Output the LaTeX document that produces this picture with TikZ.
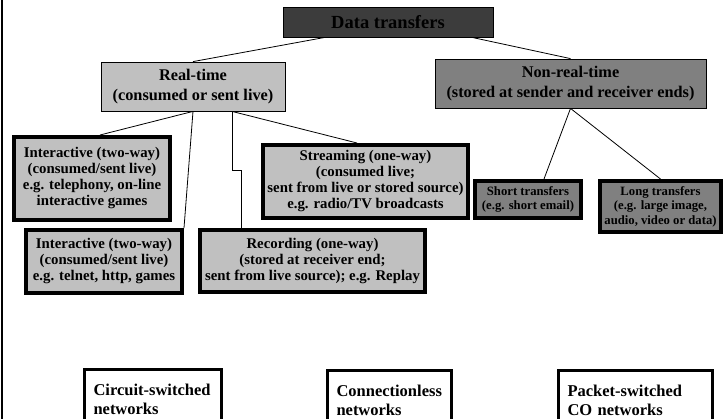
\documentclass[tikz,border=0pt]{standalone}
\usepackage{fontspec}
\setmainfont{Liberation Serif}
\usetikzlibrary{positioning}
\definecolor{darkfill}{HTML}{3C3C3C}
\definecolor{midfill}{HTML}{808080}
\definecolor{lightfill}{HTML}{C0C0C0}
\tikzset{
x=1pt, y=-1pt, % pixel units, y grows downwards
every node/.style={align=center, inner sep=0pt},
top/.style={draw, line width=0.8pt, fill=darkfill, font=\bfseries\fontsize{18.5}{21}\selectfont},
head/.style={draw, line width=0.8pt, font=\bfseries\fontsize{16.3}{20}\selectfont}, % the two main classes
kind/.style={draw, line width=4pt, fill=lightfill, font=\bfseries\fontsize{14.8}{16}\selectfont}, % real-time kinds
small/.style={draw, line width=4pt, fill=midfill, font=\bfseries\fontsize{12.7}{14.5}\selectfont}, % non-real-time kinds
net/.style={draw, line width=3pt, anchor=north west, align=left, inner xsep=9.5pt, minimum height=59pt, font=\bfseries\fontsize{16.5}{19}\selectfont},
link/.style={line width=0.8pt},
}

\begin{document}
\begin{tikzpicture}
    \useasboundingbox (0,0) rectangle (724,419);
    \clip (0,0) rectangle (724,419);
    \draw[line width=2pt] (2,0) -- (2,419);

    % top of the tree
    \node[top, minimum width=210pt, minimum height=30pt] (dt) at (388,22) {Data transfers};
    \node[head, fill=lightfill, minimum width=184pt, minimum height=49pt] (rt) at (193,86.5) {Real-time\\(consumed or sent live)};
    \node[head, fill=midfill, minimum width=271pt, minimum height=49pt] (nrt) at (570.5,83.5) {Non-real-time\\(stored at sender and receiver ends)};

    % real-time
    \node[kind, minimum width=156pt, minimum height=83pt] (int1) at (92,178.5) {Interactive (two-way)\\(consumed/sent live)\\e.g. telephony, on-line\\interactive games};
    \node[kind, minimum width=156pt, minimum height=63pt] (int2) at (104,261.5) {Interactive (two-way)\\(consumed/sent live)\\e.g. telnet, http, games};
    \node[kind, minimum width=205pt, minimum height=73pt] (str) at (365.5,181.5) {Streaming (one-way)\\(consumed live;\\sent from live or stored source)\\e.g. radio/TV broadcasts};
    \node[kind, minimum width=225pt, minimum height=62pt] (rec) at (312.5,261) {Recording (one-way)\\(stored at receiver end;\\sent from live source); e.g. Replay};

    % non-real-time
    \node[small, minimum width=106pt, minimum height=37pt] (short) at (528,199.5) {Short transfers\\(e.g. short email)};
    \node[small, minimum width=121pt, minimum height=51pt] (long) at (660.5,206.5) {Long transfers\\(e.g. large image,\\audio, video or data)};

    % networks
    \node[net, text width=118pt] (cs) at (82.5,368.5) {Circuit-switched\\networks};
    \node[net, text width=105pt] (cl) at (325.5,369.5) {Connectionless\\networks};
    \node[net, text width=135pt] (ps) at (556.5,369.5) {Packet-switched\\CO networks};

    \draw[link]
    ([xshift=-63pt]dt.south) -- (rt.north)
    ([xshift=84pt]dt.south) -- (nrt.north)
    (rt.south) -- ([xshift=8pt]int1.north)
    (rt.south) -- (int2.north east)
    ([xshift=39pt]rt.south) -- ([xshift=-8.5pt]str.north)
    (nrt.south) -- ([xshift=16pt]short.north)
    (nrt.south) -- (long.north);
    \draw[link] ([xshift=39pt]rt.south) -- ++(0,59) -| ([xshift=-71.5pt]rec.north);
\end{tikzpicture}
\end{document}
